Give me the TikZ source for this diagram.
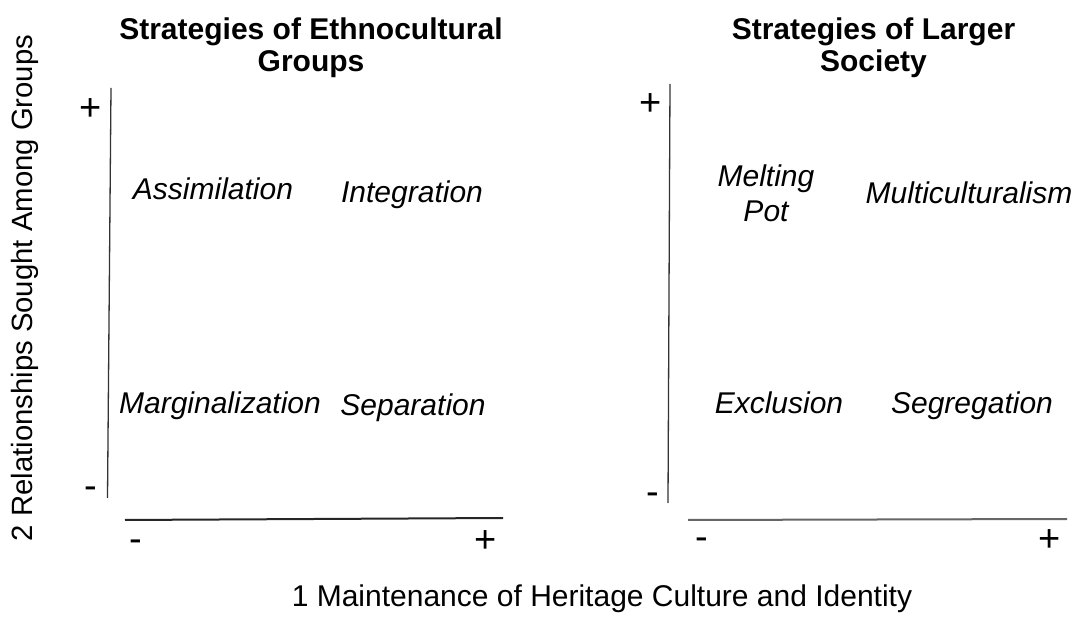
\documentclass[tikz,border=0pt]{standalone}
\usepackage{fontspec}
\setmainfont{Liberation Sans}
\begin{document}
\begin{tikzpicture}[x=1pt,y=-1pt,
  lbl/.style={inner sep=0pt, anchor=base, font=\fontsize{30}{34}\selectfont\itshape},
  ttl/.style={inner sep=0pt, anchor=base, font=\fontsize{30}{33}\selectfont\bfseries},
  axl/.style={inner sep=0pt, font=\fontsize{30}{33}\selectfont},
  sgn/.style={inner sep=0pt, anchor=base, font=\fontsize{38}{40}\selectfont},
  vax/.style={line width=1.3pt, black!80},
  hax/.style={line width=2pt, black!85}]
\useasboundingbox (0,0) rectangle (1080,617);
% titles
\node[ttl] (t1a) at (311,40) {Strategies of Ethnocultural};
\node[ttl] (t1b) at (311,72) {Groups};
\node[ttl] (t2a) at (873.5,40) {Strategies of Larger};
\node[ttl] (t2b) at (873.5,72) {Society};
% axis labels
\node[axl, rotate=90, font=\fontsize{29.3}{33}\selectfont] (ya) at (25,288) {2 Relationships Sought Among Groups};
\node[axl, anchor=base] (xa) at (602,606) {1 Maintenance of Heritage Culture and Identity};
% left panel axes
\coordinate (lv1) at (111,88);
\coordinate (lv2) at (107.5,498);
\coordinate (lh1) at (125,520);
\coordinate (lh2) at (503,518);
\draw[vax] (lv1) -- (lv2);
\draw[hax] (lh1) -- (lh2);
\node[sgn] (lp) at (91,121) {+};
\node[sgn] (lm) at (90.5,499) {-};
\node[sgn] (lbm) at (136,552) {-};
\node[sgn] (lbp) at (486,553) {+};
% left labels
\node[lbl] (as) at (213,200) {Assimilation};
\node[lbl] (in) at (412,203) {Integration};
\node[lbl] (ma) at (220,414) {Marginalization};
\node[lbl] (se) at (413,416) {Separation};
% right panel axes
\coordinate (rv1) at (670,84);
\coordinate (rv2) at (668,503);
\coordinate (rh1) at (688,520);
\coordinate (rh2) at (1067,519);
\draw[vax] (rv1) -- (rv2);
\draw[hax, black!60] (rh1) -- (rh2);
\node[sgn] (rp) at (651,116) {+};
\node[sgn] (rm) at (653,505) {-};
\node[sgn] (rbm) at (702,550) {-};
\node[sgn] (rbp) at (1050,551) {+};
% right labels
\node[lbl] (mp1) at (766,187) {Melting};
\node[lbl] (mp2) at (766,222) {Pot};
\node[lbl] (mu) at (969,204) {Multiculturalism};
\node[lbl] (ex) at (779,414) {Exclusion};
\node[lbl] (sg) at (972,414) {Segregation};
\end{tikzpicture}
\end{document}
